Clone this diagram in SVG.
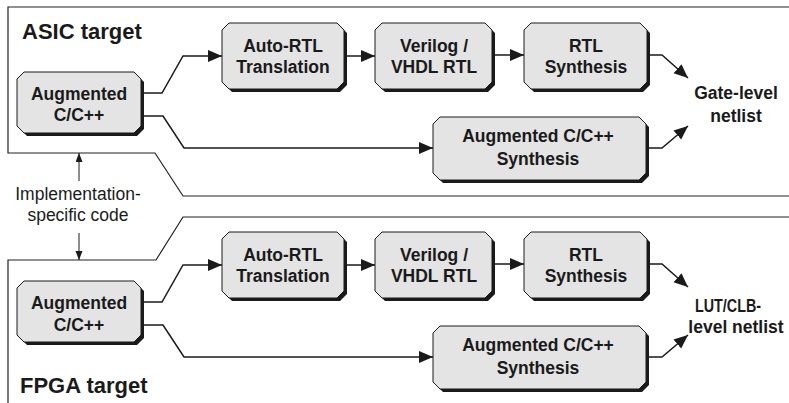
<svg xmlns="http://www.w3.org/2000/svg" width="789" height="403" viewBox="0 0 789 403">
<defs>
<style>
.frame{fill:none;stroke:#222;stroke-width:1.2}
.conn{fill:none;stroke:#1a1a1a;stroke-width:1.5}
.thin{fill:none;stroke:#1a1a1a;stroke-width:1}
.shadow{fill:#1a1a1a}
.box{fill:#e4e4e4;stroke:#1a1a1a;stroke-width:1}
.lbl{font-family:"Liberation Sans",Arial,Helvetica,sans-serif;font-weight:bold;font-size:17.5px;fill:#1a1a1a;text-anchor:middle}
.title{font-family:"Liberation Sans",Arial,Helvetica,sans-serif;font-weight:bold;font-size:22px;fill:#1a1a1a}
.note{font-family:"Liberation Sans",Arial,Helvetica,sans-serif;font-size:17.5px;fill:#1a1a1a;text-anchor:middle}
</style>
<marker id="ah" markerUnits="userSpaceOnUse" markerWidth="15" markerHeight="13" refX="14" refY="6" orient="auto">
<path d="M0,0 L14,6 L0,12 Z" fill="#1a1a1a"/>
</marker>
<marker id="ahs" markerUnits="userSpaceOnUse" markerWidth="10" markerHeight="8" refX="9" refY="3.5" orient="auto">
<path d="M0,0 L9,3.5 L0,7 Z" fill="#1a1a1a"/>
</marker>
</defs>
<rect width="789" height="403" fill="#fff"/>

<g id="frames">
<path class="frame" d="M790,7 H8 V153 H155 L183,196 H790"/>
<path class="frame" d="M790,217 H183 L156,260 H8 V404"/>
</g>

<text class="title" x="22" y="39">ASIC target</text>
<text class="title" x="20" y="393">FPGA target</text>

<g id="impl-note">
<text class="note" x="78" y="200">Implementation-</text>
<text class="note" x="78" y="221">specific code</text>
</g>

<g id="connectors">
<path class="conn" d="M144,93 H162 L183,56 H222" marker-end="url(#ah)"/>
<path class="conn" d="M144,116 H163 L184,148 H433" marker-end="url(#ah)"/>
<path class="conn" d="M347,56 H375" marker-end="url(#ah)"/>
<path class="conn" d="M495,55 H524" marker-end="url(#ah)"/>
<path class="conn" d="M650,55 H662 L688,78" marker-end="url(#ah)"/>
<path class="conn" d="M649,148 H662 L688,126" marker-end="url(#ah)"/>
<g transform="translate(0,209)">
<path class="conn" d="M144,93 H162 L183,56 H222" marker-end="url(#ah)"/>
<path class="conn" d="M144,116 H163 L184,148 H433" marker-end="url(#ah)"/>
<path class="conn" d="M347,56 H375" marker-end="url(#ah)"/>
<path class="conn" d="M495,55 H524" marker-end="url(#ah)"/>
<path class="conn" d="M650,55 H662 L688,78" marker-end="url(#ah)"/>
<path class="conn" d="M649,148 H662 L688,126" marker-end="url(#ah)"/>
</g>
<path class="thin" d="M79,181 V153" marker-end="url(#ahs)"/>
<path class="thin" d="M79,233 V260" marker-end="url(#ahs)"/>
</g>

<g id="asic-aug">
<path class="shadow" transform="translate(3,3)" d="M24,72 H134 L141,79 V126 L134,133 H24 L17,126 V79 Z"/>
<path class="box" d="M24,72 H134 L141,79 V126 L134,133 H24 L17,126 V79 Z"/>
<text class="lbl" x="79" y="100">Augmented</text>
<text class="lbl" x="79" y="121">C/C++</text>
</g>
<g id="asic-autortl">
<path class="shadow" transform="translate(3,3)" d="M229,23 H337 L344,30 V82 L337,89 H229 L222,82 V30 Z"/>
<path class="box" d="M229,23 H337 L344,30 V82 L337,89 H229 L222,82 V30 Z"/>
<text class="lbl" x="283" y="52">Auto-RTL</text>
<text class="lbl" x="283" y="73">Translation</text>
</g>
<g id="asic-verilog">
<path class="shadow" transform="translate(3,3)" d="M382,23 H485 L492,30 V82 L485,89 H382 L375,82 V30 Z"/>
<path class="box" d="M382,23 H485 L492,30 V82 L485,89 H382 L375,82 V30 Z"/>
<text class="lbl" x="434" y="52">Verilog /</text>
<text class="lbl" x="434" y="73">VHDL RTL</text>
</g>
<g id="asic-rtlsyn">
<path class="shadow" transform="translate(3,3)" d="M531,23 H640 L647,30 V82 L640,89 H531 L524,82 V30 Z"/>
<path class="box" d="M531,23 H640 L647,30 V82 L640,89 H531 L524,82 V30 Z"/>
<text class="lbl" x="586" y="52">RTL</text>
<text class="lbl" x="586" y="73">Synthesis</text>
</g>
<g id="asic-augsyn">
<path class="shadow" transform="translate(3,3)" d="M440,117 H639 L646,124 V173 L639,180 H440 L433,173 V124 Z"/>
<path class="box" d="M440,117 H639 L646,124 V173 L639,180 H440 L433,173 V124 Z"/>
<text class="lbl" x="538" y="142">Augmented C/C++</text>
<text class="lbl" x="538" y="165">Synthesis</text>
</g>
<g id="asic-out">
<text class="lbl" x="736" y="99">Gate-level</text>
<text class="lbl" x="736" y="122">netlist</text>
</g>

<g id="fpga-aug" transform="translate(0,209)">
<path class="shadow" transform="translate(3,3)" d="M24,72 H134 L141,79 V126 L134,133 H24 L17,126 V79 Z"/>
<path class="box" d="M24,72 H134 L141,79 V126 L134,133 H24 L17,126 V79 Z"/>
<text class="lbl" x="79" y="100">Augmented</text>
<text class="lbl" x="79" y="122">C/C++</text>
</g>
<g id="fpga-autortl" transform="translate(0,209)">
<path class="shadow" transform="translate(3,3)" d="M229,23 H337 L344,30 V82 L337,89 H229 L222,82 V30 Z"/>
<path class="box" d="M229,23 H337 L344,30 V82 L337,89 H229 L222,82 V30 Z"/>
<text class="lbl" x="283" y="52">Auto-RTL</text>
<text class="lbl" x="283" y="73">Translation</text>
</g>
<g id="fpga-verilog" transform="translate(0,209)">
<path class="shadow" transform="translate(3,3)" d="M382,23 H485 L492,30 V82 L485,89 H382 L375,82 V30 Z"/>
<path class="box" d="M382,23 H485 L492,30 V82 L485,89 H382 L375,82 V30 Z"/>
<text class="lbl" x="434" y="52">Verilog /</text>
<text class="lbl" x="434" y="73">VHDL RTL</text>
</g>
<g id="fpga-rtlsyn" transform="translate(0,209)">
<path class="shadow" transform="translate(3,3)" d="M531,23 H640 L647,30 V82 L640,89 H531 L524,82 V30 Z"/>
<path class="box" d="M531,23 H640 L647,30 V82 L640,89 H531 L524,82 V30 Z"/>
<text class="lbl" x="586" y="52">RTL</text>
<text class="lbl" x="586" y="73">Synthesis</text>
</g>
<g id="fpga-augsyn" transform="translate(0,209)">
<path class="shadow" transform="translate(3,3)" d="M440,117 H639 L646,124 V173 L639,180 H440 L433,173 V124 Z"/>
<path class="box" d="M440,117 H639 L646,124 V173 L639,180 H440 L433,173 V124 Z"/>
<text class="lbl" x="538" y="142">Augmented C/C++</text>
<text class="lbl" x="538" y="165">Synthesis</text>
</g>
<g id="fpga-out">
<text class="lbl" x="728" y="312" textLength="66" lengthAdjust="spacingAndGlyphs">LUT/CLB-</text>
<text class="lbl" x="736" y="333">level netlist</text>
</g>
</svg>
